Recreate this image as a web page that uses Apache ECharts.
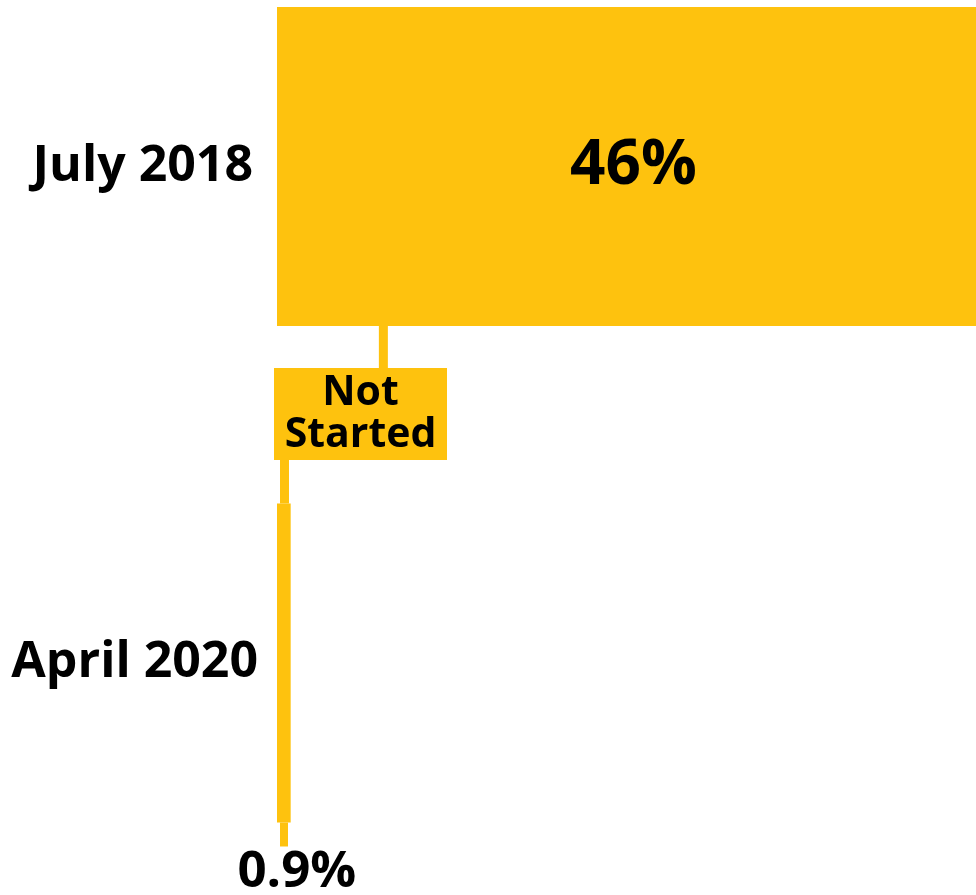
<!DOCTYPE html>
<html>
<head>
<meta charset="utf-8">
<script src="https://cdn.jsdelivr.net/npm/echarts@6/dist/echarts.min.js"></script>
<style>
  html, body { margin: 0; padding: 0; background: #ffffff; }
  #chart { width: 976px; height: 895px; }
</style>
</head>
<body>
<div id="chart"></div>
<script>
// Share of projects not started, by survey date
const categories = ['July 2018', 'April 2020'];
const notStartedShare = [46, 0.9];
const valueLabels = ['46%', '0.9%'];
const calloutLines = ['Not', 'Started'];
const calloutAnchor = 7; // value on the x scale where the callout hangs from the upper bar

const BAR_COLOR = '#FEC20E';
const FONT = '"Open Sans", "DejaVu Sans", sans-serif';

// small per-label nudges of the category names
const labelPadding = [[0, 5, 4, 0], [12, 0, 0, 0]];

const chart = echarts.init(document.getElementById('chart'), null, { renderer: 'canvas' });

chart.setOption({
  animation: false,
  backgroundColor: '#ffffff',
  grid: { left: 277, right: 0, top: 166.5, height: 496.5 },
  xAxis: { type: 'value', min: 0, max: 46, show: false },
  yAxis: {
    type: 'category',
    data: categories.map((c, i) => ({ value: c, textStyle: { padding: labelPadding[i] } })),
    inverse: true,
    boundaryGap: false,
    axisLine: { show: false },
    axisTick: { show: false },
    splitLine: { show: false },
    axisLabel: {
      margin: 19,
      color: '#000000',
      fontFamily: FONT,
      fontWeight: 'bold',
      fontSize: 50
    }
  },
  series: [{
    type: 'bar',
    barWidth: 319,
    itemStyle: { color: BAR_COLOR },
    data: notStartedShare.map((v, i) => ({
      value: v,
      label: i === 0
        ? { show: true, position: 'inside', formatter: valueLabels[i], color: '#000000',
            fontFamily: FONT, fontWeight: 'bold', fontSize: 62, offset: [7, 0] }
        : { show: true, position: 'bottom', distance: 24, formatter: valueLabels[i], color: '#000000',
            fontFamily: FONT, fontWeight: 'bold', fontSize: 51, offset: [13, 0] }
    }))
  }]
});

// Callout box with connectors, placed from the bars' computed layout
const data = chart.getModel().getSeriesByIndex(0).getData();
const lay = [0, 1].map(i => {
  const l = data.getItemLayout(i);
  const y0 = Math.min(l.y, l.y + l.height);
  return { x: l.x, top: y0, bottom: y0 + Math.abs(l.height) };
});
const x0 = chart.convertToPixel({ xAxisIndex: 0 }, 0);
const anchorX = chart.convertToPixel({ xAxisIndex: 0 }, calloutAnchor);

const boxTop = lay[0].bottom + 42;
const boxBottom = boxTop + 92;
const boxLeft = x0 - 3;
const boxRight = boxLeft + 173;

chart.setOption({
  graphic: [
    { type: 'rect', shape: { x: anchorX - 4.5, y: lay[0].bottom, width: 9, height: boxTop - lay[0].bottom },
      style: { fill: BAR_COLOR } },
    { type: 'rect', shape: { x: boxLeft, y: boxTop, width: boxRight - boxLeft, height: boxBottom - boxTop },
      style: { fill: BAR_COLOR } },
    { type: 'text', x: (boxLeft + boxRight) / 2, y: (boxTop + boxBottom) / 2,
      style: { text: calloutLines.join('\n'), align: 'center', verticalAlign: 'middle',
               fill: '#000000', fontFamily: FONT, fontWeight: 'bold', fontSize: 41, lineHeight: 42 } },
    { type: 'rect', shape: { x: x0 + 3, y: boxBottom, width: 9, height: lay[1].top - boxBottom },
      style: { fill: BAR_COLOR } },
    { type: 'rect', shape: { x: x0 + 3, y: lay[1].bottom, width: 8, height: 24 },
      style: { fill: BAR_COLOR } }
  ]
});
</script>
</body>
</html>
